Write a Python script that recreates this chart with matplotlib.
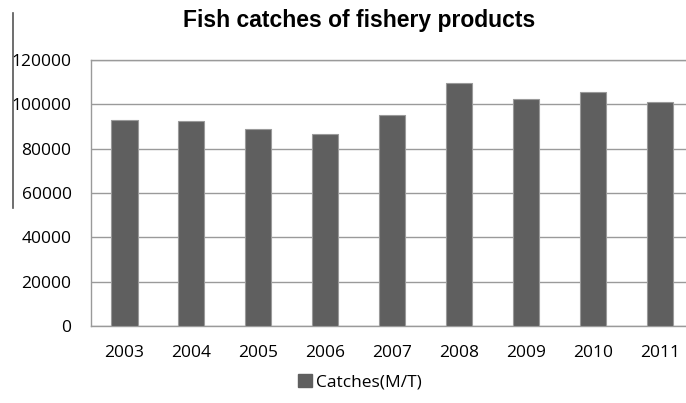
import matplotlib
matplotlib.use("Agg")
import matplotlib.pyplot as plt
from matplotlib.lines import Line2D
from matplotlib.patches import Patch

years = ["2003", "2004", "2005", "2006", "2007", "2008", "2009", "2010", "2011"]
catches = [93000, 92600, 88900, 86800, 95400, 109800, 102400, 105400, 101200]
yticks = [0, 20000, 40000, 60000, 80000, 100000, 120000]

plt.rcParams["font.family"] = ["Open Sans", "DejaVu Sans"]

fig = plt.figure(figsize=(6.86, 4.03), dpi=100)
W, H = 686, 403
# plot area runs slightly past the right edge, as in the original
ax = fig.add_axes([91 / W, 1 - 326 / H, (693.5 - 91) / W, (326 - 60) / H])

x = range(len(years))
ax.bar(x, catches, width=0.39, color="#5f5f5f", edgecolor="#9a9a9a", linewidth=0.8, zorder=3)

ax.set_xlim(-0.5, len(years) - 0.5)
ax.set_ylim(0, 120000)
ax.set_yticks(yticks)
ax.set_yticklabels([str(v) for v in yticks])
ax.set_xticks(list(x))
ax.set_xticklabels(years)
ax.tick_params(length=0, labelsize=12.5, colors="#000000")
ax.tick_params(axis="y", pad=14)
ax.tick_params(axis="x", pad=14)

ax.grid(axis="y", color="#9a9a9a", linewidth=1, zorder=0)
for side in ["left", "top", "bottom"]:
    ax.spines[side].set_color("#9a9a9a")
    ax.spines[side].set_linewidth(1)
ax.spines["right"].set_visible(False)

fig.text(359 / W, 1 - 21 / H, "Fish catches of fishery products", ha="center", va="center",
         fontsize=16.5, fontweight="bold", family=["Liberation Sans", "DejaVu Sans"])

# stray vertical line at the left edge
fig.add_artist(Line2D([13 / W, 13 / W], [1 - 13 / H, 1 - 208 / H], color="#555555", linewidth=1.2))

handle = Patch(facecolor="#5f5f5f", edgecolor="#5f5f5f")
fig.legend([handle], ["Catches(M/T)"], loc="center", bbox_to_anchor=(360 / W, 1 - 382 / H),
           frameon=False, fontsize=12.5, handlelength=0.8, handleheight=0.8, handletextpad=0.2)

fig.savefig("out.png", dpi=100)
